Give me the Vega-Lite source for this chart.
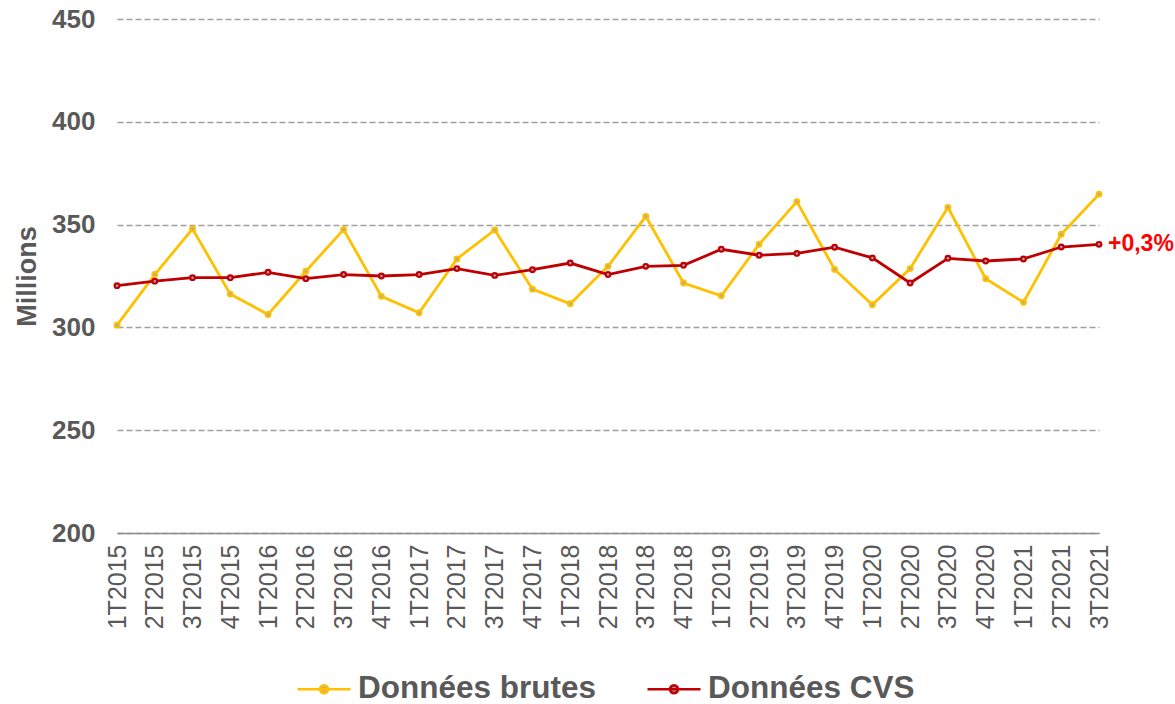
{
  "$schema": "https://vega.github.io/schema/vega-lite/v6.json",
  "width": 982,
  "height": 514,
  "autosize": "none",
  "padding": {"left": 117, "top": 19, "right": 76, "bottom": 171},
  "background": "white",
  "config": {"view": {"stroke": null}, "font": "Liberation Sans"},
  "data": {"values": [
    {"q": "1T2015", "series": "Données brutes", "v": 301.1}, {"q": "1T2015", "series": "Données CVS", "v": 320.3},
    {"q": "2T2015", "series": "Données brutes", "v": 325.7}, {"q": "2T2015", "series": "Données CVS", "v": 322.5},
    {"q": "3T2015", "series": "Données brutes", "v": 347.9}, {"q": "3T2015", "series": "Données CVS", "v": 324.2},
    {"q": "4T2015", "series": "Données brutes", "v": 316.2}, {"q": "4T2015", "series": "Données CVS", "v": 324.2},
    {"q": "1T2016", "series": "Données brutes", "v": 306.3}, {"q": "1T2016", "series": "Données CVS", "v": 326.8},
    {"q": "2T2016", "series": "Données brutes", "v": 327.3}, {"q": "2T2016", "series": "Données CVS", "v": 323.7},
    {"q": "3T2016", "series": "Données brutes", "v": 347.6}, {"q": "3T2016", "series": "Données CVS", "v": 325.7},
    {"q": "4T2016", "series": "Données brutes", "v": 315.1}, {"q": "4T2016", "series": "Données CVS", "v": 325.0},
    {"q": "1T2017", "series": "Données brutes", "v": 307.1}, {"q": "1T2017", "series": "Données CVS", "v": 325.7},
    {"q": "2T2017", "series": "Données brutes", "v": 333.3}, {"q": "2T2017", "series": "Données CVS", "v": 328.6},
    {"q": "3T2017", "series": "Données brutes", "v": 347.4}, {"q": "3T2017", "series": "Données CVS", "v": 325.3},
    {"q": "4T2017", "series": "Données brutes", "v": 318.6}, {"q": "4T2017", "series": "Données CVS", "v": 328.1},
    {"q": "1T2018", "series": "Données brutes", "v": 311.5}, {"q": "1T2018", "series": "Données CVS", "v": 331.3},
    {"q": "2T2018", "series": "Données brutes", "v": 329.7}, {"q": "2T2018", "series": "Données CVS", "v": 325.7},
    {"q": "3T2018", "series": "Données brutes", "v": 354.0}, {"q": "3T2018", "series": "Données CVS", "v": 329.7},
    {"q": "4T2018", "series": "Données brutes", "v": 321.6}, {"q": "4T2018", "series": "Données CVS", "v": 330.2},
    {"q": "1T2019", "series": "Données brutes", "v": 315.4}, {"q": "1T2019", "series": "Données CVS", "v": 338.0},
    {"q": "2T2019", "series": "Données brutes", "v": 340.4}, {"q": "2T2019", "series": "Données CVS", "v": 335.1},
    {"q": "3T2019", "series": "Données brutes", "v": 361.2}, {"q": "3T2019", "series": "Données CVS", "v": 336.0},
    {"q": "4T2019", "series": "Données brutes", "v": 328.2}, {"q": "4T2019", "series": "Données CVS", "v": 339.0},
    {"q": "1T2020", "series": "Données brutes", "v": 311.0}, {"q": "1T2020", "series": "Données CVS", "v": 333.8},
    {"q": "2T2020", "series": "Données brutes", "v": 328.6}, {"q": "2T2020", "series": "Données CVS", "v": 321.6},
    {"q": "3T2020", "series": "Données brutes", "v": 358.4}, {"q": "3T2020", "series": "Données CVS", "v": 333.6},
    {"q": "4T2020", "series": "Données brutes", "v": 323.7}, {"q": "4T2020", "series": "Données CVS", "v": 332.3},
    {"q": "1T2021", "series": "Données brutes", "v": 312.2}, {"q": "1T2021", "series": "Données CVS", "v": 333.3},
    {"q": "2T2021", "series": "Données brutes", "v": 345.3}, {"q": "2T2021", "series": "Données CVS", "v": 339.1},
    {"q": "3T2021", "series": "Données brutes", "v": 364.8}, {"q": "3T2021", "series": "Données CVS", "v": 340.4}
  ]},
  "encoding": {
    "x": {
      "field": "q", "type": "nominal", "sort": null,
      "scale": {"type": "point", "padding": 0},
      "axis": {
        "title": null, "labelAngle": -90, "labelFontSize": 25, "labelColor": "#595959",
        "ticks": false, "domainColor": "#8C8C8C", "domainWidth": 1.5, "labelPadding": 11, "grid": false
      }
    },
    "y": {
      "field": "v", "type": "quantitative",
      "scale": {"domain": [200, 450], "nice": false, "zero": false},
      "axis": {
        "title": "Millions", "values": [200, 250, 300, 350, 400, 450],
        "grid": true, "gridDash": [6, 3], "gridColor": "#A0A0A0", "gridWidth": 1.3,
        "domain": false, "ticks": false, "labelPadding": 22,
        "labelFontSize": 26, "labelFontWeight": "bold", "labelColor": "#595959",
        "titleFontSize": 27, "titleFontWeight": "bold", "titleColor": "#595959", "titlePadding": 10
      }
    },
    "color": {
      "field": "series", "type": "nominal",
      "scale": {"domain": ["Données brutes", "Données CVS"], "range": ["#FFC000", "#C00000"]},
      "legend": {
        "title": null, "orient": "none", "legendX": 179, "legendY": 642, "direction": "horizontal",
        "symbolType": "M-1,0L1,0M-0.15,0A0.15,0.15 0 1,0 0.15,0A0.15,0.15 0 1,0 -0.15,0",
        "symbolSize": 2809, "symbolStrokeWidth": 2.7, "symbolFillColor": "#9DA6C4",
        "labelFontSize": 31.5, "labelFontWeight": "bold", "labelColor": "#595959", "labelLimit": 400,
        "labelOffset": 6, "columnPadding": 45
      }
    }
  },
  "layer": [
    {"mark": {"type": "line", "strokeWidth": 2.8}},
    {"mark": {"type": "point", "shape": "circle", "filled": false, "fill": "#9DA6C4", "size": 22, "strokeWidth": 2.2, "opacity": 1}},
    {
      "transform": [{"filter": "datum.q == '3T2021' && datum.series == 'Données CVS'"}],
      "mark": {"type": "text", "align": "left", "baseline": "middle", "dx": 9, "fontSize": 23, "fontWeight": "bold"},
      "encoding": {"text": {"value": "+0,3%"}, "color": {"value": "#FF0000"}}
    }
  ]
}
